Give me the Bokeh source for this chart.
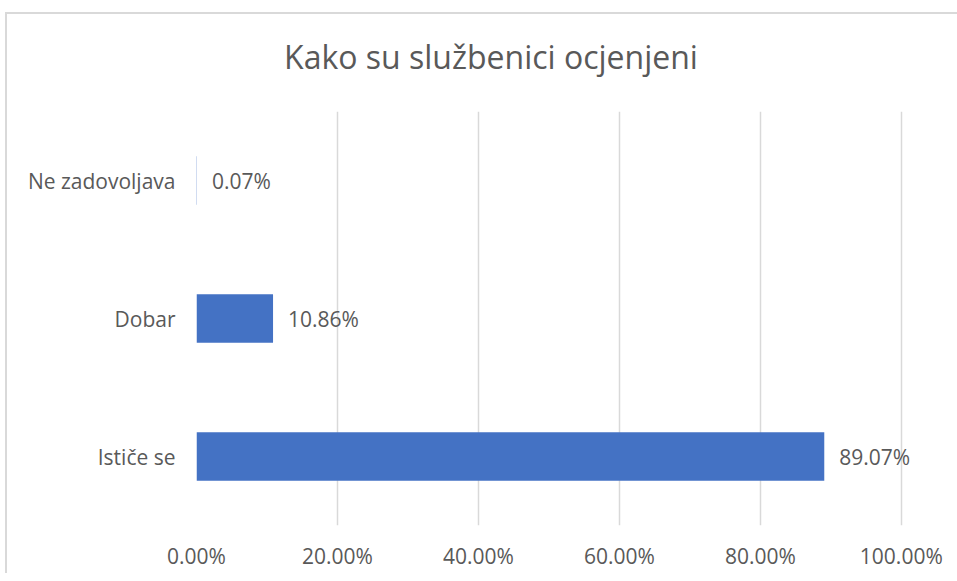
from bokeh.plotting import figure
from bokeh.models import ColumnDataSource, PrintfTickFormatter, FixedTicker, Div
from bokeh.layouts import column
from bokeh.core.properties import value
from bokeh.embed import file_html
from bokeh.resources import INLINE

categories = ["Ističe se", "Dobar", "Ne zadovoljava"]
percentages = [89.07, 10.86, 0.07]
labels = ["89.07%", "10.86%", "0.07%"]
tick_values = [0, 20, 40, 60, 80, 100]
title_text = "Kako su službenici ocjenjeni"

FONT = "Open Sans"
TXT = "#595959"

src = ColumnDataSource(dict(cat=categories, val=percentages, lab=labels))

head = Div(text=('<div style="width:950px;text-align:center;padding-left:8px;box-sizing:border-box;'
                 'line-height:76px;font-size:32px;color:%s;font-family:\'%s\';">%s</div>'
                 % (TXT, FONT, title_text)),
           width=950, height=76)

p = figure(width=950, height=473, y_range=categories, x_range=(0, 104),
           output_backend="svg", toolbar_location=None,
           min_border_left=189, min_border_right=28, min_border_top=11, min_border_bottom=48)

p.hbar(y="cat", right="val", left=0, height=0.35, source=src,
       fill_color="#4472C4", line_color=None)
p.text(x="val", y="cat", text="lab", source=src, x_offset=15,
       text_baseline="middle", text_align="left", text_color=TXT,
       text_font=value(FONT), text_font_size="21px")

p.xaxis.ticker = FixedTicker(ticks=tick_values)
p.xaxis.formatter = PrintfTickFormatter(format="%.2f%%")
for ax in (p.xaxis, p.yaxis):
    ax.axis_line_color = None
    ax.major_tick_line_color = None
    ax.minor_tick_line_color = None
    ax.major_label_text_font = FONT
    ax.major_label_text_font_size = "21px"
    ax.major_label_text_color = TXT
p.xaxis.major_label_standoff = 10
p.yaxis.major_label_standoff = 15

p.xgrid.grid_line_color = "#d9d9d9"
p.xgrid.grid_line_width = 1.5
p.ygrid.grid_line_color = None
p.outline_line_color = None

layout = column(head, p, spacing=0)
layout.styles = {"margin-left": "5px", "margin-top": "12px",
                 "border-left": "2px solid #d9d9d9", "border-top": "2px solid #d9d9d9"}

open("out.html", "w").write(file_html(layout, INLINE))
